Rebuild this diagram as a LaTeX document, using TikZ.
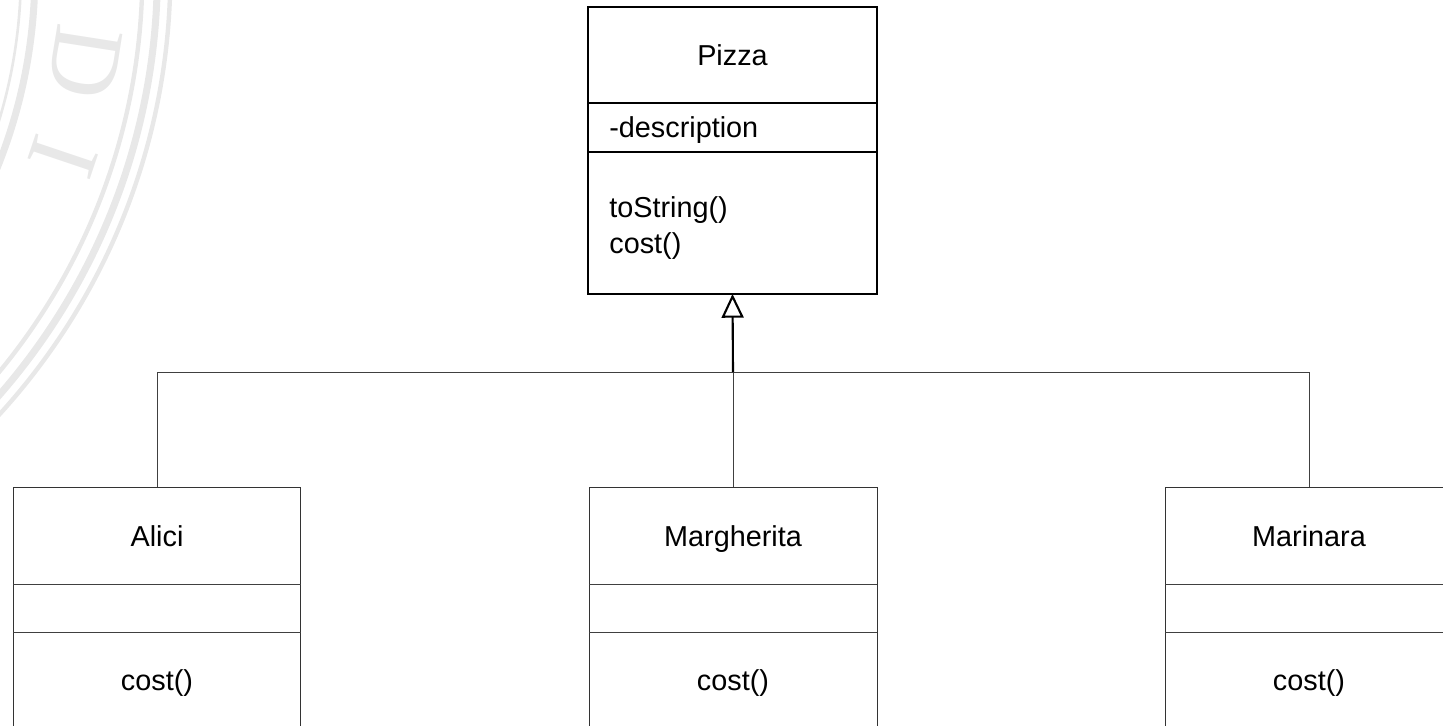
\documentclass[tikz,border=0pt]{standalone}
\usepackage{fontspec}
\setmainfont{Liberation Sans}
\newfontfamily\sealfont{Liberation Serif}
\usetikzlibrary{arrows.meta}

\tikzset{
  seal/.style={draw=black!9},
  sealletter/.style={text=black!9, font=\sealfont\fontsize{57}{57}\selectfont, inner sep=0pt},
  superbox/.style={draw=black, line width=1.2pt, rectangle, inner sep=0pt, outer sep=0pt,
    minimum width=5.78cm, minimum height=5.74cm},
  subbox/.style={draw=black!80, line width=0.55pt, rectangle, inner sep=0pt, outer sep=0pt,
    minimum width=5.76cm, minimum height=6cm},
  label/.style={inner sep=0pt, font=\fontsize{16.4}{19.7}\selectfont},
  thinline/.style={draw=black!75, line width=0.55pt},
  thickline/.style={draw=black, line width=1.2pt},
  inherits/.style={thickline, -{Triangle[open, length=13.5pt, width=12.5pt]}},
}

\begin{document}
\begin{tikzpicture}[x=0.02cm, y=-0.02cm]
  \useasboundingbox (0,0) rectangle (1443,725);
  \clip (0,0) rectangle (1443,725);

  % faint seal in the background
  \coordinate (sealc) at (-485,-27);
  \draw[seal, line width=1.5pt] (sealc) circle[radius=10.12cm];
  \draw[seal, line width=4pt]   (sealc) circle[radius=10.40cm];
  \draw[seal, line width=2.5pt] (sealc) circle[radius=12.55cm];
  \draw[seal, line width=4pt]   (sealc) circle[radius=12.85cm];
  \draw[seal, line width=2.5pt] (sealc) circle[radius=13.11cm];
  \node[sealletter, rotate=-98.9]  (sealD) at (85,62)  {D};
  \node[sealletter, rotate=-108.6] (sealI) at (63,157) {I};

  % classes
  \node[superbox] (pizza) at (732.5,150.5) {};
  \draw[thickline] (pizza.west |- 0,103) -- (pizza.east |- 0,103);
  \draw[thickline] (pizza.west |- 0,152) -- (pizza.east |- 0,152);
  \node[label, anchor=base] (pizzaname) at (732.5,65) {Pizza};
  \node[label, anchor=base west] (pizzaattr) at (609,137) {-description};
  \node[label, anchor=base west] (pizzaop1) at (609,217) {toString()};
  \node[label, anchor=base west] (pizzaop2) at (609,253) {cost()};

  \node[subbox] (alici) at (157,637) {};
  \node[subbox] (margherita) at (733,637) {};
  \node[subbox] (marinara) at (1309,637) {};

  \foreach \c in {alici, margherita, marinara} {
    \draw[thinline] (\c.west |- 0,584) -- (\c.east |- 0,584);
    \draw[thinline] (\c.west |- 0,632) -- (\c.east |- 0,632);
  }

  \node[label, anchor=base] (aliciname) at (157,546) {Alici};
  \node[label, anchor=base] (alicop) at (157,690) {cost()};
  \node[label, anchor=base] (margname) at (733,546) {Margherita};
  \node[label, anchor=base] (margop) at (733,690) {cost()};
  \node[label, anchor=base] (mariname) at (1309,546) {Marinara};
  \node[label, anchor=base] (mariop) at (1309,690) {cost()};

  % generalisation
  \coordinate (junction) at (733,372);
  \draw[thinline] (alici.north) |- (junction) -| (marinara.north);
  \draw[thinline] (margherita.north) -- (junction);
  \draw[inherits] (junction) -- (pizza.south);
\end{tikzpicture}
\end{document}
